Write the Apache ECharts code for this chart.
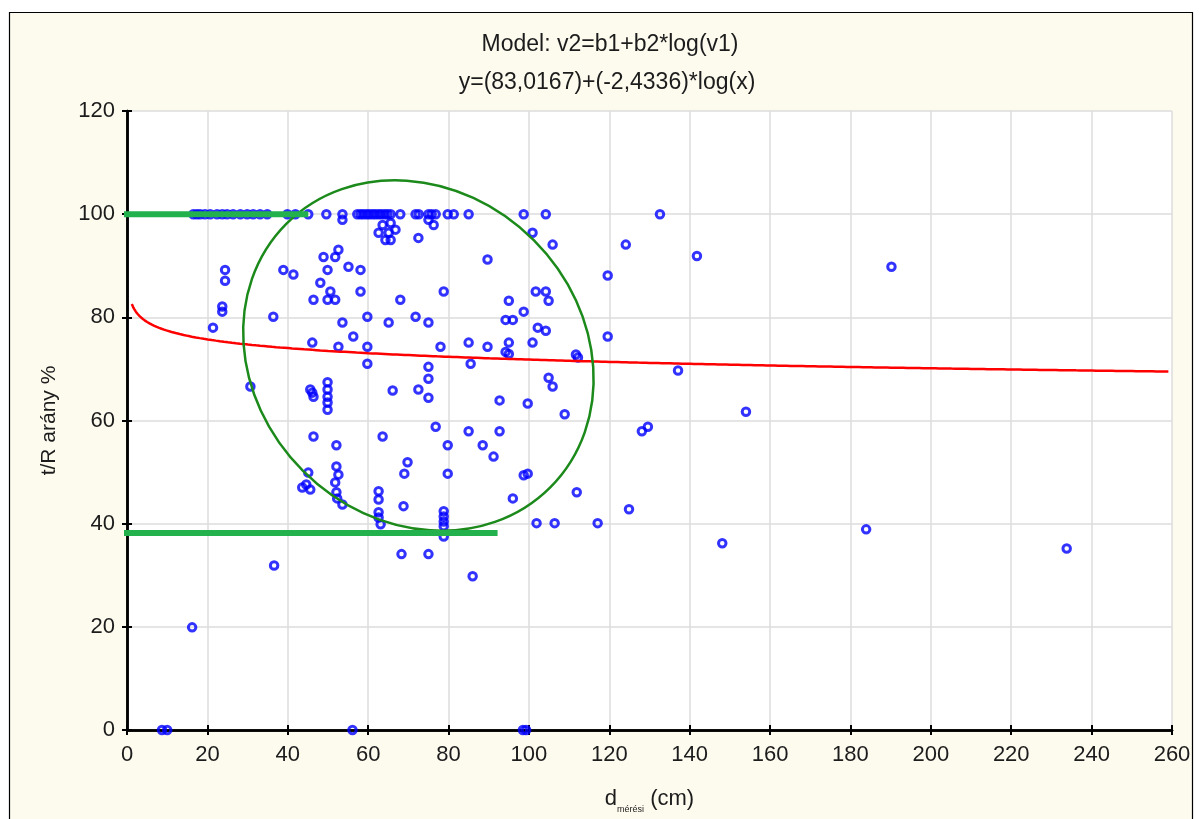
<!DOCTYPE html>
<html>
<head>
<meta charset="utf-8">
<script src="https://cdn.jsdelivr.net/npm/echarts@6/dist/echarts.min.js"></script>
<style>
  html, body { margin: 0; padding: 0; background: #ffffff; }
  #chart { width: 1200px; height: 819px; }
</style>
</head>
<body>
<div id="chart"></div>
<script>
// Fitted model: v2 = b1 + b2 * log(v1)
const B1 = 83.0167;
const B2 = -2.4336;

// Axis ranges and tick steps
const X_MIN = 0, X_MAX = 260, X_STEP = 20;
const Y_MIN = 0, Y_MAX = 120, Y_STEP = 20;

// Observations with t/R = 100 %: measured diameters (cm)
const fullRatioD = [
  16.5, 17.4, 18.2, 19.4, 20.7, 22.4, 23.7, 24.9, 26.4, 28.2, 29.9, 31.4, 33.1, 34.9,
  39.9, 41.9, 45.1, 49.6, 53.6, 57.3, 58.1, 58.8, 59.6, 60.3, 61.1, 61.8, 62.6, 63.3,
  64.1, 64.8, 65.6, 68.0, 71.8, 72.6, 75.0, 75.8, 76.8, 79.8, 81.3, 85.0, 98.7, 104.2, 132.6
];

// Remaining observations: measured diameter d (cm) ...
const otherD = [
  53.6, 63.6, 65.6, 62.6, 65.1, 66.8, 65.6, 64.3, 72.5, 76.3, 75.0,
  89.7, 52.6, 51.8, 48.9, 49.9, 55.1, 58.1, 48.1, 50.6, 46.4, 49.9, 51.8, 58.1, 68.0, 78.8,
  59.8, 53.6, 65.1, 71.8, 75.0, 56.3, 46.1, 52.6, 59.8, 78.0, 85.0, 89.7,
  24.4, 24.4, 23.7, 23.7, 36.4, 21.4, 38.9, 41.4,
  100.9, 105.9, 124.1, 119.6, 101.7, 104.2, 104.9, 95.0, 98.7, 94.2, 96.0, 102.2, 104.2,
  119.6, 95.0, 100.9, 94.2, 95.0, 111.7, 112.2, 137.1, 104.9, 105.9, 92.7, 99.7, 108.9,
  92.7, 88.5, 91.2, 98.7, 99.7, 96.0, 111.9, 101.9, 106.4, 117.1, 124.9, 128.1, 129.6,
  141.8, 190.2, 154.0, 148.1, 183.9, 233.8,
  30.7, 45.6, 46.1, 46.4, 45.1, 43.6, 45.6, 44.6, 59.8, 75.0, 75.0, 85.5, 49.9, 49.9,
  49.9, 49.9, 49.9, 46.4, 66.1, 72.5, 75.0, 52.1, 63.6, 76.8, 79.8, 85.0,
  69.8, 69.0, 79.8, 52.1, 52.6, 51.8, 52.1, 52.3, 53.6, 62.6, 62.6, 62.6, 62.6, 63.1,
  68.8, 78.8, 78.8, 78.8, 78.8, 78.8,
  68.3, 75.0, 86.0, 36.6, 16.2, 8.7, 10.0, 56.1, 98.5, 99.3
];
// ... and the matching t/R ratio (%)
const otherRatio = [
  98.9, 97.9, 98.3, 96.4, 96.4, 97.0, 95.0, 95.0, 95.4, 97.9, 98.9,
  91.2, 93.1, 91.7, 91.7, 89.2, 89.8, 89.2, 86.7, 85.0, 83.4, 83.4, 83.4, 85.0, 83.4, 85.0,
  80.1, 79.0, 79.0, 80.1, 79.0, 76.3, 75.1, 74.3, 74.3, 74.3, 75.1, 74.3,
  89.2, 87.1, 82.1, 81.1, 80.1, 78.0, 89.2, 88.3,
  96.4, 94.1, 94.1, 88.1, 85.0, 85.0, 83.2, 83.2, 81.1, 79.5, 79.5, 78.0, 77.4,
  76.3, 75.1, 75.1, 73.3, 72.9, 72.8, 72.2, 69.7, 68.3, 66.6, 63.9, 63.3, 61.2,
  57.9, 55.2, 53.0, 49.4, 49.7, 44.9, 46.1, 40.1, 40.1, 40.1, 42.8, 57.9, 58.8,
  91.9, 89.8, 61.7, 36.2, 38.9, 35.2,
  66.6, 66.0, 65.4, 56.9, 49.9, 47.0, 46.6, 47.6, 71.0, 70.4, 68.1, 71.0, 67.4, 66.0,
  64.6, 63.5, 62.1, 64.6, 65.8, 66.0, 64.4, 55.2, 56.9, 58.8, 55.2, 57.9,
  51.9, 49.7, 49.7, 51.1, 49.5, 48.0, 46.1, 44.9, 43.7, 46.3, 44.7, 42.2, 41.2, 39.9,
  43.4, 42.4, 41.4, 40.4, 39.5, 37.5,
  34.1, 34.1, 29.8, 31.9, 19.9, 0, 0, 0, 0, 0
];

// Highlighted ratio levels: [ratio %, d from, d to]
const upperBand = [100, -1, 45.1];
const lowerBand = [38.2, -1, 92.2];

// Highlight ellipse: centre (d, ratio), semi-axes in d units, tilt in degrees
const ellipseSpec = [72.5, 72.6, 46.4, 40.6, 45];

const FONT = '"Liberation Sans", Arial, sans-serif';
const TEXT = '#1c1c1c';

const fmt = v => String(v).replace('.', ',');

const points = fullRatioD.map(d => [d, 100])
  .concat(otherD.map((d, i) => [d, otherRatio[i]]));

// Model curve sampled along the d axis
const curve = [];
for (let d = 1.2; d <= X_MAX; d += (d < 10 ? 0.1 : 1)) {
  curve.push([d, B1 + B2 * Math.log(d)]);
}

const chart = echarts.init(document.getElementById('chart'));

const hiddenAxis = {
  axisLine: { show: true, lineStyle: { color: '#000', width: 2.5 } },
  axisTick: { show: true, inside: true, length: 5, lineStyle: { color: '#000', width: 2 } },
  axisLabel: { show: false },
  splitLine: { show: false }
};

chart.setOption({
  backgroundColor: '#ffffff',
  animation: false,
  graphic: [
    {
      type: 'rect', z: -10, silent: true,
      shape: { x: 9.5, y: 12.5, width: 1183, height: 820 },
      style: { fill: '#fdfaee', stroke: '#000', lineWidth: 1.2 }
    },
    {
      type: 'text', x: 610, y: 45, silent: true,
      style: { text: 'Model: v2=b1+b2*log(v1)', font: '23px ' + FONT, fill: TEXT, align: 'center', verticalAlign: 'middle' }
    },
    {
      type: 'text', x: 607, y: 83, silent: true,
      style: { text: 'y=(' + fmt(B1) + ')+(' + fmt(B2) + ')*log(x)', font: '23px ' + FONT, fill: TEXT, align: 'center', verticalAlign: 'middle' }
    }
  ],
  grid: {
    left: 127, right: 28, top: 111, bottom: 88,
    show: true, backgroundColor: '#ffffff', borderWidth: 0
  },
  xAxis: [
    {
      type: 'value', min: X_MIN, max: X_MAX, interval: X_STEP, position: 'bottom',
      name: '{d|d}{s|mérési}{n| (cm)}', nameLocation: 'middle', nameGap: 58,
      nameTextStyle: {
        rich: {
          d: { fontSize: 22, fontFamily: FONT, color: TEXT, verticalAlign: 'bottom', padding: [0, 0, 4, 0] },
          s: { fontSize: 9, fontFamily: FONT, color: TEXT, verticalAlign: 'bottom' },
          n: { fontSize: 22, fontFamily: FONT, color: TEXT, verticalAlign: 'bottom', padding: [0, 0, 4, 0] }
        }
      },
      axisLine: { show: true, onZero: false, lineStyle: { color: '#000', width: 2.5 } },
      axisTick: { show: true, inside: true, length: 5, lineStyle: { color: '#000', width: 2 } },
      axisLabel: { margin: 14, fontSize: 22, fontFamily: FONT, color: TEXT },
      splitLine: { show: true, lineStyle: { color: '#dcdcdc', width: 1.5 } }
    },
    Object.assign({ type: 'value', min: X_MIN, max: X_MAX, interval: X_STEP, position: 'top' }, hiddenAxis)
  ],
  yAxis: [
    {
      type: 'value', min: Y_MIN, max: Y_MAX, interval: Y_STEP, position: 'left',
      name: 't/R arány %', nameLocation: 'middle', nameGap: 67,
      nameTextStyle: { fontSize: 21, fontFamily: FONT, color: TEXT },
      axisLine: { show: true, onZero: false, lineStyle: { color: '#000', width: 2.5 } },
      axisTick: { show: true, inside: true, length: 5, lineStyle: { color: '#000', width: 2 } },
      axisLabel: { margin: 12, fontSize: 22, fontFamily: FONT, color: TEXT },
      splitLine: { show: true, lineStyle: { color: '#dcdcdc', width: 1.5 } }
    },
    Object.assign({ type: 'value', min: Y_MIN, max: Y_MAX, interval: Y_STEP, position: 'right' }, hiddenAxis)
  ],
  series: [
    {
      type: 'scatter', data: points, symbol: 'circle', symbolSize: 7.5,
      itemStyle: { color: 'rgba(0,0,0,0)', borderColor: '#0000ff', borderWidth: 3 },
      silent: true, z: 2
    },
    {
      type: 'line', data: curve, showSymbol: false, smooth: false,
      lineStyle: { color: '#ff0000', width: 2.5 }, silent: true, z: 3
    },
    {
      type: 'custom', data: [ellipseSpec], silent: true, z: 4,
      renderItem: function (params, api) {
        const c = api.coord([api.value(0), api.value(1)]);
        const a = api.size([api.value(2), 0])[0];
        const b = api.size([api.value(3), 0])[0];
        return {
          type: 'ellipse', x: c[0], y: c[1], rotation: -api.value(4) * Math.PI / 180,
          shape: { cx: 0, cy: 0, rx: a, ry: b },
          style: { fill: 'none', stroke: '#1b8a1b', lineWidth: 2.5 }
        };
      }
    },
    {
      type: 'line', data: [[upperBand[1], upperBand[0]], [upperBand[2], upperBand[0]]],
      showSymbol: false, clip: false, lineStyle: { color: '#22b14c', width: 6 }, silent: true, z: 5
    },
    {
      type: 'line', data: [[lowerBand[1], lowerBand[0]], [lowerBand[2], lowerBand[0]]],
      showSymbol: false, clip: false, lineStyle: { color: '#22b14c', width: 6 }, silent: true, z: 5
    }
  ]
});
</script>
</body>
</html>
